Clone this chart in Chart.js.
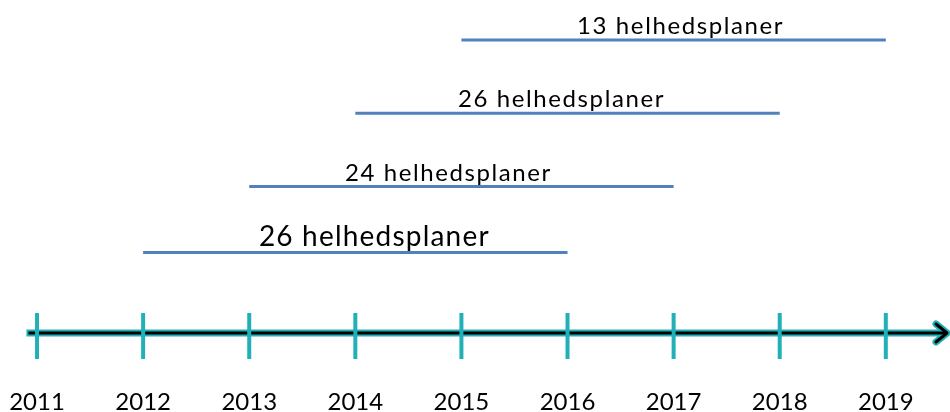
<!DOCTYPE html>
<html>
<head>
<meta charset="utf-8">
<script src="https://cdn.jsdelivr.net/npm/chart.js@4/dist/chart.umd.min.js"></script>
<style>
    html, body { margin: 0; padding: 0; background: #fff; }
    canvas { display: block; }
</style>
</head>
<body>
<canvas id="timelineChart" width="950" height="412"></canvas>
<script>

// Data
const years = [2011, 2012, 2013, 2014, 2015, 2016, 2017, 2018, 2019];
const planCounts = [26, 24, 26, 13];
const startYears = [2012, 2013, 2014, 2015];
const endYears = [2016, 2017, 2018, 2019];
const rows = [1.1, 2, 3, 4];

const TEAL = '#22b0b8';
const BLUE = '#4f81bd';


// Timeline axis, year ticks and the text above each period
const timelinePlugin = {
    id: 'timeline',
    afterDatasetsDraw(chart, args, opts) {
        const { ctx, scales: { x, y } } = chart;
        const axisY = y.getPixelForValue(0);
        const x0 = x.getPixelForValue(years[0] - 0.1);
        const x1 = chart.chartArea.right - 3;

        ctx.save();
        ctx.lineCap = 'butt';

        // axis: teal outline, black core
        ctx.strokeStyle = TEAL;
        ctx.lineWidth = 7;
        ctx.beginPath();
        ctx.moveTo(x0, axisY);
        ctx.lineTo(x1 - 2, axisY);
        ctx.stroke();

        // arrow head
        ctx.lineJoin = 'round';
        ctx.lineCap = 'round';
        ctx.beginPath();
        ctx.moveTo(x1 - 11, axisY - 9);
        ctx.lineTo(x1, axisY);
        ctx.lineTo(x1 - 11, axisY + 9);
        ctx.stroke();

        ctx.strokeStyle = '#000';
        ctx.lineWidth = 3;
        ctx.lineCap = 'butt';
        ctx.beginPath();
        ctx.moveTo(x0 + 2, axisY);
        ctx.lineTo(x1 - 2, axisY);
        ctx.stroke();
        ctx.lineCap = 'round';
        ctx.beginPath();
        ctx.moveTo(x1 - 11, axisY - 9);
        ctx.lineTo(x1, axisY);
        ctx.lineTo(x1 - 11, axisY + 9);
        ctx.stroke();

        // year ticks
        ctx.strokeStyle = TEAL;
        ctx.lineWidth = 4;
        ctx.lineCap = 'butt';
        years.forEach(year => {
            const px = x.getPixelForValue(year);
            ctx.beginPath();
            ctx.moveTo(px, axisY - 20);
            ctx.lineTo(px, axisY + 26);
            ctx.stroke();
        });

        // period labels
        ctx.fillStyle = '#000';
        ctx.textAlign = 'center';
        ctx.textBaseline = 'alphabetic';
        planCounts.forEach((count, i) => {
            const mid = (x.getPixelForValue(startYears[i]) + x.getPixelForValue(endYears[i])) / 2;
            const py = y.getPixelForValue(rows[i]);
            ctx.font = opts.fonts[i];
            ctx.letterSpacing = opts.spacing[i];
            ctx.fillText(count + ' helhedsplaner', mid + opts.shift[i], py - 6);
        });

        ctx.restore();
    }
};


const canvas = document.getElementById('timelineChart');

const datasets = planCounts.map((count, i) => ({
    label: count + ' helhedsplaner',
    data: [
        { x: startYears[i], y: rows[i] },
        { x: endYears[i], y: rows[i] }
    ],
    borderColor: BLUE,
    borderWidth: 3,
    pointRadius: 0,
    borderCapStyle: 'butt',
    clip: false
}));

new Chart(canvas, {
    type: 'line',
    data: { datasets },
    options: {
        responsive: false,
        animation: false,
        events: [],
        layout: { padding: 0 },
        plugins: {
            legend: { display: false },
            tooltip: { enabled: false },
            timeline: {
                fonts: ['28px Lato', '24px Lato', '24px Lato', '24px Lato'],
                spacing: ['1.2px', '1.6px', '1.6px', '1.6px'],
                shift: [19, -13, -6, 7]
            }
        },
        scales: {
            x: {
                type: 'linear',
                min: 2010.651,
                max: 2019.605,
                afterBuildTicks: axis => {
                    axis.ticks = years.map(v => ({ value: v }));
                },
                grid: { display: false, drawTicks: false },
                border: { display: false },
                ticks: {
                    autoSkip: false,
                    maxRotation: 0,
                    padding: 0,
                    color: '#000',
                    font: { family: 'Lato', size: 24, lineHeight: 0.8 },
                    callback: v => String(v)
                }
            },
            y: {
                type: 'linear',
                display: false,
                min: -0.816,
                max: 4.546
            }
        }
    },
    plugins: [timelinePlugin]
});

</script>
</body>
</html>
